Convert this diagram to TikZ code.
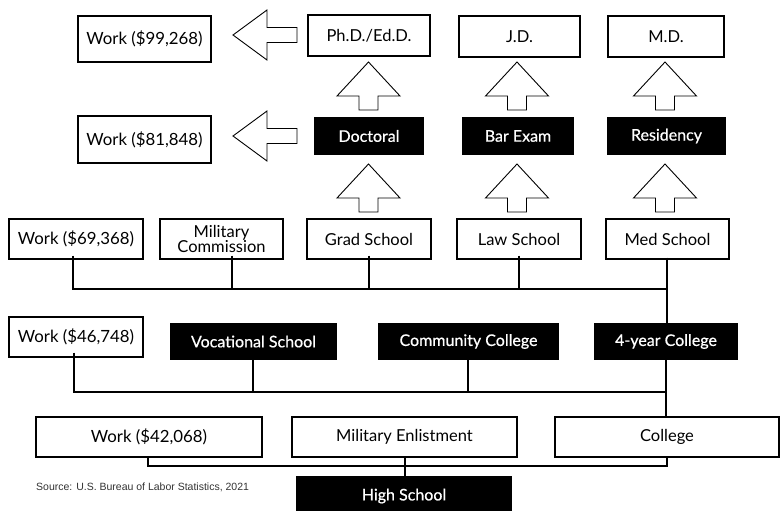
\documentclass[tikz,border=0pt]{standalone}
\usepackage{fontspec}
\setmainfont{Lato}
\newfontfamily\srcfont{Liberation Sans}
\newfontfamily\wfont[FakeBold=0.6]{Lato}
\begin{document}
\begin{tikzpicture}[x=1pt,y=-1pt,
  box/.style={draw=black,line width=1.3pt,fill=white,inner sep=0pt,font=\fontsize{16.5}{16.5}\selectfont},
  workbox/.style={box,font=\fontsize{16.8}{16.8}\selectfont},
  blackbox/.style={fill=black,draw=none,inner sep=0pt,text=white,font=\wfont\fontsize{16}{16}\selectfont},
  conn/.style={line width=1.8pt},
  arrowline/.style={draw=black,fill=white,line width=0.9pt,line join=miter},
  uparr/.pic={\path[arrowline] (0,0) -- (31.5,34) -- (9.5,34) -- (9.5,48) -- (-9.5,48) -- (-9.5,34) -- (-31.5,34) -- cycle;},
  leftarr/.pic={\path[arrowline] (0,0) -- (34,-25) -- (34,-7.5) -- (64,-7.5) -- (64,7.5) -- (34,7.5) -- (34,25) -- cycle;}
]
\useasboundingbox[fill=white] (0,0) rectangle (780,511);
% top row
\node[workbox,minimum width=133pt,minimum height=46pt] (w99) at (144.5,39) {Work (\$99,268)};
\node[box,minimum width=122pt,minimum height=41pt] (phd) at (369,35.5) {Ph.D./Ed.D.};
\node[box,minimum width=121pt,minimum height=41pt] (jd) at (519.5,36.5) {J.D.};
\node[box,minimum width=116pt,minimum height=41pt] (md) at (666,36.5) {M.D.};
% second row
\node[workbox,minimum width=133pt,minimum height=47pt] (w81) at (144.5,139.5) {Work (\$81,848)};
\node[blackbox,minimum width=110pt,minimum height=38pt] (doc) at (369,136) {Doctoral};
\node[blackbox,minimum width=112pt,minimum height=38pt] (bar) at (518,136) {Bar Exam};
\node[blackbox,minimum width=119pt,minimum height=38pt] (res) at (666.5,136) {Residency};
% third row
\node[workbox,minimum width=134pt,minimum height=40pt] (w69) at (76,239) {Work (\$69,368)};
\node[box,minimum width=123pt,minimum height=40pt,align=center,font=\fontsize{16.5}{14.5}\selectfont] (mil) at (221.5,239) {Military\\Commission};
\node[box,minimum width=124pt,minimum height=40pt] (grad) at (369,239) {Grad School};
\node[box,minimum width=124pt,minimum height=40pt] (law) at (519,239) {Law School};
\node[box,minimum width=123pt,minimum height=40pt] (med) at (667.5,239) {Med School};
% fourth row
\node[workbox,minimum width=134pt,minimum height=40pt] (w46) at (76,337) {Work (\$46,748)};
\node[blackbox,minimum width=167pt,minimum height=37pt] (voc) at (253.5,341.5) {Vocational School};
\node[blackbox,minimum width=181pt,minimum height=37pt] (cc) at (468.5,341.5) {Community College};
\node[blackbox,minimum width=144pt,minimum height=37pt] (fy) at (666,341.5) {4-year College};
% fifth row
\node[workbox,minimum width=226pt,minimum height=40pt] (w42) at (149,437) {Work (\$42,068)};
\node[box,minimum width=225pt,minimum height=40pt] (me) at (404.5,437) {Military Enlistment};
\node[box,minimum width=224pt,minimum height=40pt] (col) at (667,437) {College};
\node[blackbox,minimum width=216pt,minimum height=40pt] (hs) at (404,496) {High School};
\node[anchor=west,inner sep=0pt,text=black!80,font=\srcfont\fontsize{10.5}{10.5}\selectfont] (src) at (36,487) {Source: U.S. Bureau of Labor Statistics, 2021};
% block arrows
\pic at (233,35) {leftarr};
\pic at (233,136) {leftarr};
\pic at (368.5,62) {uparr};
\pic at (517,62) {uparr};
\pic at (665,62) {uparr};
\pic at (368.5,164) {uparr};
\pic at (517,164) {uparr};
\pic at (665,164) {uparr};
% connector buses
\coordinate (b3a) at (73,289);
\coordinate (b3b) at (232,289);
\coordinate (b3c) at (369,289);
\coordinate (b3d) at (519,289);
\coordinate (b3e) at (667,289);
\draw[conn] ([yshift=4pt]w69.south -| b3a) -- (b3a) -- (b3e);
\draw[conn] ([yshift=4pt]mil.south -| b3b) -- (b3b);
\draw[conn] ([yshift=4pt]grad.south -| b3c) -- (b3c);
\draw[conn] ([yshift=4pt]law.south -| b3d) -- (b3d);
\draw[conn] ([yshift=2pt]med.south -| b3e) -- ([yshift=-5pt]fy.north -| b3e);
\coordinate (b4a) at (74,392);
\coordinate (b4b) at (253,392);
\coordinate (b4c) at (468,392);
\coordinate (b4d) at (666,392);
\draw[conn] ([yshift=5pt]w46.south -| b4a) -- (b4a) -- (b4d);
\draw[conn] ([yshift=2pt]voc.south -| b4b) -- (b4b);
\draw[conn] ([yshift=2pt]cc.south -| b4c) -- (b4c);
\draw[conn] ([yshift=2pt]fy.south -| b4d) -- (col.north -| b4d);
\coordinate (b5a) at (148,466);
\coordinate (b5b) at (405,466);
\coordinate (b5c) at (667,466);
\draw[conn] (w42.south -| b5a) -- (b5a) -- (b5c) -- (col.south -| b5c);
\draw[conn] (me.south -| b5b) -- (hs.north -| b5b);
\end{tikzpicture}
\end{document}
